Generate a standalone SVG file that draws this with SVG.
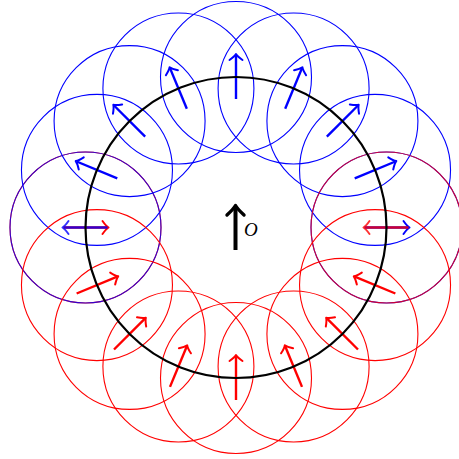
<svg xmlns="http://www.w3.org/2000/svg" width="459" height="459" viewBox="0 0 459 459">
<style>
.c{fill:none;stroke-width:1.1}
.b .c{stroke:#0000ff}
.r .c{stroke:#ff0000}
.a{stroke-width:2.4;fill:none}
.b .a{stroke:#0000ff;marker-end:url(#hb)}
.r .a{stroke:#ff0000;marker-end:url(#hr)}
.top{opacity:0.8}
.big{fill:none;stroke:#000;stroke-width:2.2}
.lbl{font-family:"Liberation Serif",serif;font-style:italic;font-size:19px;fill:#000}
</style>
<defs>
<marker id="hb" markerUnits="userSpaceOnUse" viewBox="-9 -9 12 18" markerWidth="12" markerHeight="18" refX="-1" refY="0" orient="auto">
<path d="M -6 -6.5 Q -2.5 -1.5 0 0 Q -2.5 1.5 -6 6.5" fill="none" stroke="#0000ff" stroke-width="2" stroke-linecap="round" stroke-linejoin="round"/>
</marker>
<marker id="hr" markerUnits="userSpaceOnUse" viewBox="-9 -9 12 18" markerWidth="12" markerHeight="18" refX="-1" refY="0" orient="auto">
<path d="M -6 -6.5 Q -2.5 -1.5 0 0 Q -2.5 1.5 -6 6.5" fill="none" stroke="#ff0000" stroke-width="2" stroke-linecap="round" stroke-linejoin="round"/>
</marker>
<marker id="hk" markerUnits="userSpaceOnUse" viewBox="-14 -12 17 24" markerWidth="17" markerHeight="24" refX="-1.5" refY="0" orient="auto">
<path d="M -9.5 -8.5 Q -3.5 -2 0 0 Q -3.5 2 -9.5 8.5" fill="none" stroke="#000" stroke-width="3.4" stroke-linecap="round" stroke-linejoin="round"/>
</marker>
</defs>
<g id="nodes">
<g id="red-180" class="r"><circle class="c" cx="85.5" cy="227.5" r="75.5"/><line class="a" transform="translate(85.5 227.5) rotate(0)" x1="-22" y1="0" x2="22" y2="0"/></g>
<g id="blue-180" class="b top"><circle class="c" cx="85.5" cy="227.5" r="75.5"/><line class="a" transform="translate(85.5 227.5) rotate(-180)" x1="-22" y1="0" x2="22" y2="0"/></g>
<g id="blue-157" class="b"><circle class="c" cx="96.96" cy="169.91" r="75.5"/><line class="a" transform="translate(96.96 169.91) rotate(-157.5)" x1="-22" y1="0" x2="22" y2="0"/></g>
<g id="blue-135" class="b"><circle class="c" cx="129.58" cy="121.08" r="75.5"/><line class="a" transform="translate(129.58 121.08) rotate(-135)" x1="-22" y1="0" x2="22" y2="0"/></g>
<g id="blue-112" class="b"><circle class="c" cx="178.41" cy="88.46" r="75.5"/><line class="a" transform="translate(178.41 88.46) rotate(-112.5)" x1="-22" y1="0" x2="22" y2="0"/></g>
<g id="blue-090" class="b"><circle class="c" cx="236" cy="77" r="75.5"/><line class="a" transform="translate(236 77) rotate(-90)" x1="-22" y1="0" x2="22" y2="0"/></g>
<g id="blue-067" class="b"><circle class="c" cx="293.59" cy="88.46" r="75.5"/><line class="a" transform="translate(293.59 88.46) rotate(-67.5)" x1="-22" y1="0" x2="22" y2="0"/></g>
<g id="blue-045" class="b"><circle class="c" cx="342.42" cy="121.08" r="75.5"/><line class="a" transform="translate(342.42 121.08) rotate(-45)" x1="-22" y1="0" x2="22" y2="0"/></g>
<g id="blue-022" class="b"><circle class="c" cx="375.04" cy="169.91" r="75.5"/><line class="a" transform="translate(375.04 169.91) rotate(-22.5)" x1="-22" y1="0" x2="22" y2="0"/></g>
<g id="blue-000" class="b"><circle class="c" cx="386.5" cy="227.5" r="75.5"/><line class="a" transform="translate(386.5 227.5) rotate(0)" x1="-22" y1="0" x2="22" y2="0"/></g>
<g id="red-360" class="r top"><circle class="c" cx="386.5" cy="227.5" r="75.5"/><line class="a" transform="translate(386.5 227.5) rotate(-180)" x1="-22" y1="0" x2="22" y2="0"/></g>
<g id="red-202" class="r"><circle class="c" cx="96.96" cy="285.09" r="75.5"/><line class="a" transform="translate(96.96 285.09) rotate(-22.5)" x1="-22" y1="0" x2="22" y2="0"/></g>
<g id="red-225" class="r"><circle class="c" cx="129.58" cy="333.92" r="75.5"/><line class="a" transform="translate(129.58 333.92) rotate(-45)" x1="-22" y1="0" x2="22" y2="0"/></g>
<g id="red-247" class="r"><circle class="c" cx="178.41" cy="366.54" r="75.5"/><line class="a" transform="translate(178.41 366.54) rotate(-67.5)" x1="-22" y1="0" x2="22" y2="0"/></g>
<g id="red-270" class="r"><circle class="c" cx="236" cy="378" r="75.5"/><line class="a" transform="translate(236 378) rotate(-90)" x1="-22" y1="0" x2="22" y2="0"/></g>
<g id="red-292" class="r"><circle class="c" cx="293.59" cy="366.54" r="75.5"/><line class="a" transform="translate(293.59 366.54) rotate(-112.5)" x1="-22" y1="0" x2="22" y2="0"/></g>
<g id="red-315" class="r"><circle class="c" cx="342.42" cy="333.92" r="75.5"/><line class="a" transform="translate(342.42 333.92) rotate(-135)" x1="-22" y1="0" x2="22" y2="0"/></g>
<g id="red-337" class="r"><circle class="c" cx="375.04" cy="285.09" r="75.5"/><line class="a" transform="translate(375.04 285.09) rotate(-157.5)" x1="-22" y1="0" x2="22" y2="0"/></g>
</g>
<g id="big-circle"><circle class="big" cx="236" cy="227.5" r="150.5"/></g>
<g id="center">
<line x1="235.5" y1="250" x2="235.5" y2="207" stroke="#000" stroke-width="4" marker-end="url(#hk)"/>
<text class="lbl" x="244" y="236">O</text>
</g>
</svg>
